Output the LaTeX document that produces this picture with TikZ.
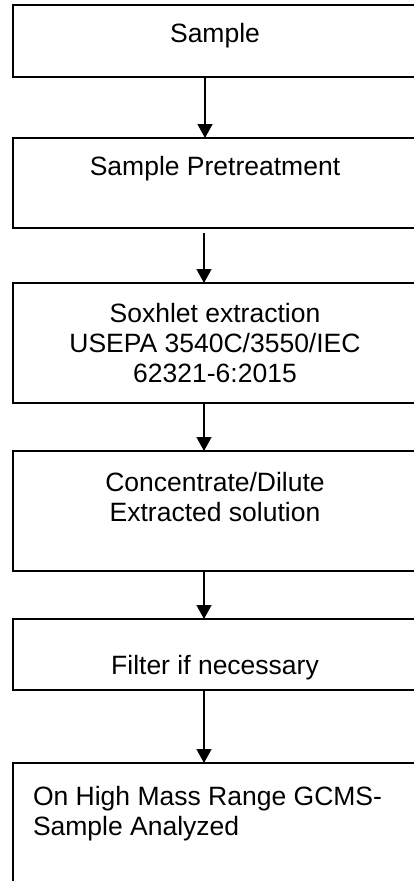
\documentclass[tikz,border=0pt]{standalone}
\usepackage{fontspec}
\setmainfont{Liberation Sans}
\usetikzlibrary{arrows.meta}
\usetikzlibrary{positioning}

\begin{document}
\begin{tikzpicture}[x=1pt, y=-1pt, line width=2pt,
    box/.style={minimum width=420pt, inner sep=0pt, outer sep=0pt, anchor=north west},
    txt/.style={font=\fontsize{26.5}{30}\selectfont, align=center, inner sep=0pt},
    flow/.style={-{Triangle[width=15pt,length=14pt]}, line width=1.4pt}]
    \useasboundingbox (0,0) rectangle (414,881);
    \clip (0,0) rectangle (414,881);

    % boxes (they run out past the right edge)
    \node[box, minimum height=72pt]  (sample)  at (13,5)   {};
    \node[box, minimum height=90pt]  (pretr)   at (13,138) {};
    \node[box, minimum height=120pt] (soxhlet) at (13,283) {};
    \node[box, minimum height=120pt] (conc)    at (13,451) {};
    \node[box, minimum height=71pt]  (filter)  at (13,619) {};
    \node[box, minimum height=137pt] (gcms)    at (13,763) {};
    \foreach \b in {sample, pretr, soxhlet, conc, filter, gcms}
        \draw (\b.north east) -- (\b.north west) -- (\b.south west) -- (\b.south east);

    % texts
    \node[txt, below=17pt of sample.north, xshift=-8pt]  (t1) {Sample};
    \node[txt, below=17pt of pretr.north, xshift=-8pt]   (t2) {Sample Pretreatment};
    \node[txt, below=19pt of soxhlet.north, xshift=-8pt] (t3) {Soxhlet extraction\\USEPA 3540C/3550/IEC\\62321-6:2015};
    \node[txt, below=20pt of conc.north, xshift=-8pt]    (t4) {Concentrate/Dilute\\Extracted solution};
    \node[txt, below=35pt of filter.north, xshift=-8pt]  (t5) {Filter if necessary};
    \node[txt, align=left, anchor=north west] (t6) at ([shift={(19,22)}]gcms.north west)
        {On High Mass Range GCMS-\\Sample Analyzed};

    % arrows
    \draw[flow] ([xshift=-18pt]sample.south) -- ([xshift=-18pt]pretr.north);
    \draw[flow, shorten <=5pt] ([xshift=-19pt]pretr.south) -- ([xshift=-19pt]soxhlet.north);
    \draw[flow] ([xshift=-19pt]soxhlet.south) -- ([xshift=-19pt]conc.north);
    \draw[flow] ([xshift=-19pt]conc.south) -- ([xshift=-19pt]filter.north);
    \draw[flow] ([xshift=-19pt]filter.south) -- ([xshift=-19pt]gcms.north);

\end{tikzpicture}
\end{document}
